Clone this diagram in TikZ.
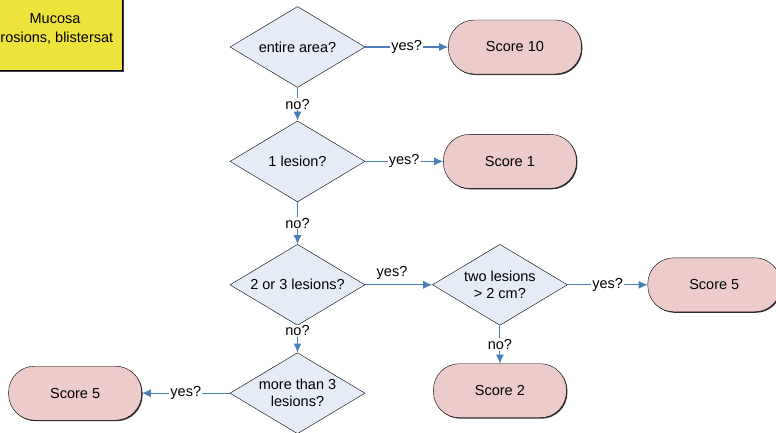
\documentclass[tikz,border=0pt]{standalone}
\usepackage{fontspec}
\setmainfont{Liberation Sans}
\usetikzlibrary{shapes,arrows.meta,positioning,shadows}

\definecolor{qfill}{HTML}{E5ECF6}
\definecolor{sfill}{HTML}{EDCBCA}
\definecolor{yfill}{HTML}{EEE33B}
\definecolor{lblue}{HTML}{4A7EBB}

\tikzset{
  question/.style={diamond,draw=black,fill=qfill,align=center,inner sep=0pt,aspect=1.67,minimum width=135pt,minimum height=81pt,font=\fontsize{14.5}{17}\selectfont},
  score/.style={rectangle,rounded corners=26pt,draw=black,fill=sfill,minimum width=133pt,minimum height=54pt,font=\fontsize{14.5}{17}\selectfont,drop shadow={shadow xshift=1pt,shadow yshift=-1pt,fill=black!80,opacity=1}},
  flow/.style={->,>={Latex[length=9pt,width=8pt]},draw=lblue,line width=1.1pt},
  tag/.style={fill=white,inner sep=1pt,font=\fontsize{14.5}{17}\selectfont}
}

\begin{document}
\begin{tikzpicture}[x=1pt,y=1pt]
\useasboundingbox (0,0) rectangle (776,-432);
\clip (0,0) rectangle (776,-432);
% Mucosa box
\node[rectangle,draw=black,fill=yfill,align=center,minimum width=134pt,minimum height=82pt,font=\fontsize{14.5}{18.5}\selectfont,drop shadow={shadow xshift=2pt,shadow yshift=-2pt,fill=black!75,opacity=1}] (Muc) at (55,-29) {Mucosa\\\hspace*{-6pt}Erosions, blistersat};
% Questions
\node[question] (Q1) at (297.5,-47) {entire area?};
\node[question, below=33 of Q1] (Q2) {1 lesion?};
\node[question, below=42 of Q2] (Q3) {2 or 3 lesions?};
\node[question, right=67 of Q3] (Q4) {two lesions\\> 2 cm?};
\node[question, below=27 of Q3] (Q5) {more than 3\\lesions?};
% Scores
\node[score, right=83 of Q1] (S10) {Score 10};
\node[score, right=78 of Q2] (S1) {Score 1};
\node[score, right=80 of Q4] (S5a) {Score 5};
\node[score, below=38 of Q4] (S2) {Score 2};
\node[score, left=88 of Q5] (S5b) {Score 5};
% Arrows
\draw[flow] (Q1.east) -- node[tag]{yes?} (S10.west);
\draw[flow] (Q1.south) -- node[tag]{no?} (Q2.north);
\draw[flow] (Q2.east) -- node[tag]{yes?} (S1.west);
\draw[flow] (Q2.south) -- node[tag]{no?} (Q3.north);
\draw[flow] (Q3.east) -- node[pos=0.4,above=1pt,font=\fontsize{14.5}{17}\selectfont]{yes?} (Q4.west);
\draw[flow] (Q4.east) -- node[tag]{yes?} (S5a.west);
\draw[flow] (Q4.south) -- node[tag]{no?} (S2.north);
\draw[flow] (Q3.south) -- node[tag,pos=0.2]{no?} (Q5.north);
\draw[flow] (Q5.west) -- node[tag]{yes?} (S5b.east);
\end{tikzpicture}
\end{document}
